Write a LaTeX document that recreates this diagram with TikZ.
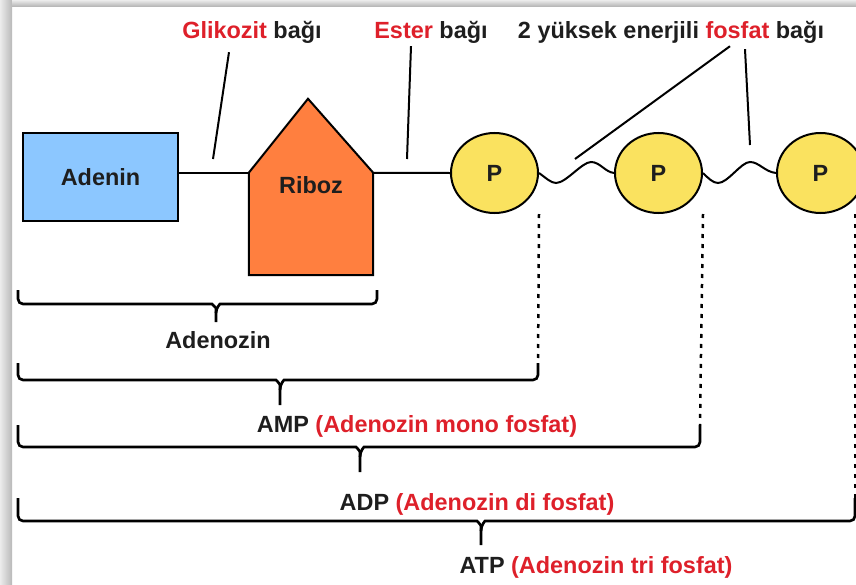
\documentclass[tikz,border=0pt]{standalone}
\usepackage{fontspec}
\setmainfont{Liberation Sans}
\usetikzlibrary{calc,positioning,shapes.geometric}
\definecolor{adeninblue}{RGB}{140,199,255}
\definecolor{ribozorange}{RGB}{255,127,63}
\definecolor{fosfatyellow}{RGB}{250,226,95}
\definecolor{textred}{RGB}{222,32,42}
\definecolor{textblack}{RGB}{30,30,30}

\begin{document}
\begin{tikzpicture}[x=0.03cm, y=-0.03cm, every node/.style={font=\fontsize{20}{24}\selectfont\bfseries, text=textblack}]
\tikzstyle{box} = [rectangle, minimum width=4.65cm, minimum height=2.64cm, draw=black, line width=.6mm]
\tikzstyle{fos} = [ellipse, minimum width=2.61cm, minimum height=2.4cm, inner sep=0, draw=black, line width=.6mm, fill=fosfatyellow]
\tikzstyle{bnd} = [line width=.6mm]
\tikzstyle{brc} = [line width=.8mm, rounded corners=.15cm]
\tikzstyle{dotln} = [line width=.75mm, dash pattern=on .12cm off .18cm]
\tikzstyle{lbl} = [anchor=base, inner sep=0]

\useasboundingbox (0,0) rectangle (856,585);
\fill[white] (0,0) rectangle (856,585);
\shade[left color=gray!15, right color=gray!55] (0,0) rectangle (12,585);
\shade[top color=gray!15, bottom color=gray!55] (12,0) rectangle (856,6);

\node (adenin) [box, fill=adeninblue] at (100.5,177) {Adenin};
\node (riboz) [rectangle, minimum width=3.72cm, minimum height=3.06cm] at (311,224) {};
\filldraw[fill=ribozorange, line width=.6mm] (riboz.south west) -- (riboz.north west) -- ($(riboz.north)+(-3,-74)$) -- (riboz.north east) -- (riboz.south east) -- cycle;
\node (ribozlbl) [lbl] at (311,193) {Riboz};

\node (p1) [fos] at (494.5,173) {P};
\node (p2) [fos, right=2.25cm of p1] {P};
\node (p3) [fos, right=2.19cm of p2] {P};

\draw[bnd] (riboz.north west) -- (riboz.north west -| adenin.east);
\draw[bnd] (riboz.north east) -- (p1.west);
\draw[bnd] (p1.east) .. controls (546,178) and (551,183) .. (556,183) .. controls (566,183) and (582,162) .. (591,162) .. controls (600,162) and (605,172) .. (p2.west);
\draw[bnd] (p2.east) .. controls (708,178) and (713,183) .. (718,183) .. controls (728,183) and (741,162) .. (750,162) .. controls (759,162) and (765,172) .. (p3.west);

\node (glikozit) [lbl] at (252,38) {\textcolor{textred}{Glikozit} bağı};
\node (ester) [lbl] at (431,38) {\textcolor{textred}{Ester} bağı};
\node (fosfat) [lbl] at (671,38) {2 yüksek enerjili \textcolor{textred}{fosfat} bağı};

\coordinate (gb) at (213,159);
\coordinate (eb) at (407,159);
\coordinate (fb1) at (575,159);
\coordinate (fb2) at (750,145);
\draw[bnd] (glikozit.south) ++(-23,9) -- (gb);
\draw[bnd] (ester.south) ++(-20,3) -- (eb);
\draw[bnd] (fosfat.south) ++(59,3) -- (fb1);
\draw[bnd] (fosfat.south) ++(74,6) -- (fb2);

\coordinate (ampr) at (538,363);
\coordinate (adpr) at (700,425);
\coordinate (atpr) at (855,498);

\draw[brc] (18,290) |- (207,304) .. controls (212,304) and (216,308) .. (216,313) -- (216,322);
\draw[brc] (377,290) |- (225,304) .. controls (220,304) and (216,308) .. (216,313);
\draw[brc] (18,363) |- (271,380) .. controls (276,380) and (280,384) .. (280,390) -- (280,405);
\draw[brc] (ampr) |- (289,380) .. controls (284,380) and (280,384) .. (280,390);
\draw[brc] (18,425) |- (351,447) .. controls (356,447) and (360,451) .. (360,457) -- (360,472);
\draw[brc] (adpr) |- (369,447) .. controls (364,447) and (360,451) .. (360,457);
\draw[brc] (18,498) |- (472,521) .. controls (477,521) and (481,525) .. (481,531) -- (481,545);
\draw[brc] (atpr) |- (490,521) .. controls (485,521) and (481,525) .. (481,531);

\draw[dotln] (p1.east |- p1.south) -- (ampr);
\draw[dotln] (p2.east |- p2.south) -- (adpr);
\draw[dotln] (atpr |- p3.south) -- (atpr);

\node (adenozin) [lbl] at (218,348) {Adenozin};
\node (amp) [lbl] at (417,432) {AMP \textcolor{textred}{(Adenozin mono fosfat)}};
\node (adp) [lbl] at (477,510) {ADP \textcolor{textred}{(Adenozin di fosfat)}};
\node (atp) [lbl] at (596,573) {ATP \textcolor{textred}{(Adenozin tri fosfat)}};

\end{tikzpicture}
\end{document}
